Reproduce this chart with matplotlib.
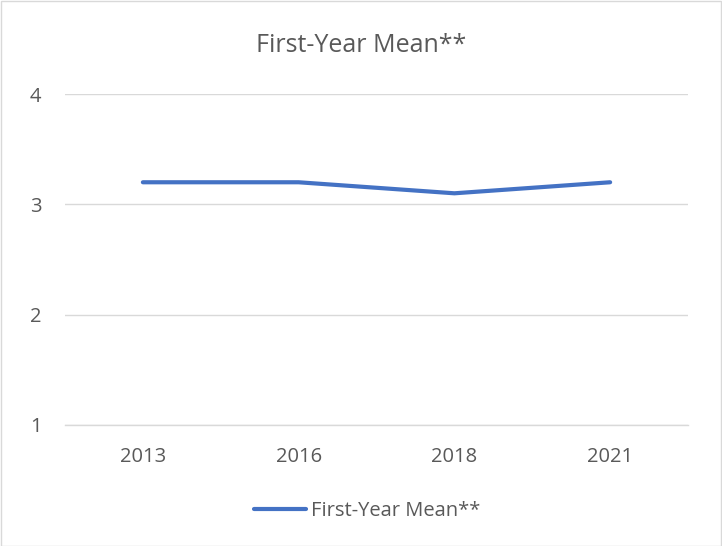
import matplotlib
matplotlib.use("Agg")
import matplotlib.pyplot as plt
from matplotlib.patches import Rectangle
from matplotlib.lines import Line2D

plt.rcParams['font.family'] = ['Open Sans', 'DejaVu Sans']

years = ["2013", "2016", "2018", "2021"]
values = [3.2, 3.2, 3.1, 3.2]
series_name = "First-Year Mean**"
title = "First-Year Mean**"
yticks = [1, 2, 3, 4]

fig = plt.figure(figsize=(7.22, 5.46), dpi=100)
fig.patches.append(Rectangle((0.5/722, 0.5/546), 1 - 1.5/722, 1 - 1.5/546,
                             transform=fig.transFigure, fill=False,
                             edgecolor="#D9D9D9", linewidth=1))
ax = fig.add_axes([65/722, 1 - 425/546, (688 - 65)/722, (425 - 94)/546])

x = [i + 0.5 for i in range(len(years))]
ax.plot(x, values, color="#4472C4", linewidth=3, solid_capstyle="round",
        label=series_name, zorder=3)

ax.set_xlim(0, len(years))
ax.set_ylim(1, 4)
ax.set_yticks(yticks)
ax.set_yticklabels([str(t) for t in yticks])
ax.set_xticks(x)
ax.set_xticklabels(years)
ax.tick_params(axis="both", length=0, labelsize=14.5, labelcolor="#595959")
ax.tick_params(axis="y", pad=17)
ax.tick_params(axis="x", pad=16)
ax.grid(axis="y", color="#D9D9D9", linewidth=1)
for s in ["top", "right", "left"]:
    ax.spines[s].set_visible(False)
ax.spines["bottom"].set_color("#D9D9D9")
ax.spines["bottom"].set_linewidth(1)

fig.text(0.5, 1 - 46/546, title, ha="center", va="center", fontsize=18,
         color="#595959")

handle = Line2D([0], [0], color="#4472C4", linewidth=3, solid_capstyle="round")
fig.legend([handle], [series_name], loc="center", bbox_to_anchor=(367/722, 1 - 511/546),
           frameon=False, fontsize=14.5, labelcolor="#595959", handlelength=2.6,
           handletextpad=0.2)

fig.savefig("out.png", dpi=100)
